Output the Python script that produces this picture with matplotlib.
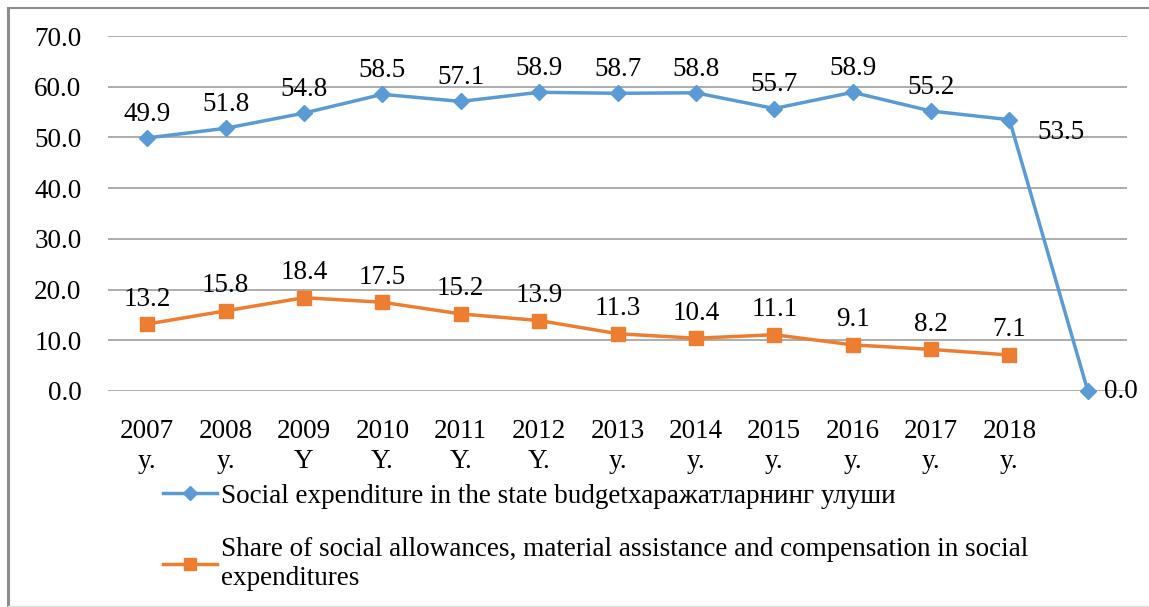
import matplotlib
matplotlib.use("Agg")
import matplotlib.pyplot as plt
from matplotlib.lines import Line2D

plt.rcParams['font.family'] = ['Liberation Serif', 'DejaVu Serif']

categories = ["2007\ny.", "2008\ny.", "2009\nY", "2010\nY.", "2011\nY.", "2012\nY.",
              "2013\ny.", "2014\ny.", "2015\ny.", "2016\ny.", "2017\ny.", "2018\ny.", ""]
social_exp = [49.9, 51.8, 54.8, 58.5, 57.1, 58.9, 58.7, 58.8, 55.7, 58.9, 55.2, 53.5, 0.0]
allowances = [13.2, 15.8, 18.4, 17.5, 15.2, 13.9, 11.3, 10.4, 11.1, 9.1, 8.2, 7.1]
series_names = ["Social expenditure in the state budgetхаражатларнинг улуши",
                "Share of social allowances, material assistance and compensation in social\nexpenditures"]
yticks = [0, 10, 20, 30, 40, 50, 60, 70]

blue = "#5B9BD5"
orange = "#ED7D31"
FS = 19.5

W, H = 1149, 607
fig = plt.figure(figsize=(W / 100, H / 100), dpi=100)
ax = fig.add_axes([108 / W, 1 - 391 / H, (1127 - 108) / W, (391 - 36) / H])

x1 = list(range(len(social_exp)))
x2 = list(range(len(allowances)))
ax.plot(x1, social_exp, color=blue, lw=2.5, marker="D", ms=8, zorder=3, clip_on=False)
ax.plot(x2, allowances, color=orange, lw=2.5, marker="s", ms=10, zorder=3, clip_on=False)

ax.set_xlim(-0.5, len(categories) - 0.5)
ax.set_ylim(0, 70)
ax.set_yticks(yticks)
ax.set_yticklabels([f"{v:.1f}" for v in yticks], fontsize=FS)
ax.set_xticks(x1)
ax.set_xticklabels(categories, fontsize=FS, linespacing=1.3)
ax.tick_params(axis='x', length=0, pad=20)
ax.tick_params(axis='y', length=0, pad=19)
ax.grid(axis='y', color="#A6A6A6", lw=1.3)
ax.set_axisbelow(True)
for s in ax.spines.values():
    s.set_visible(False)

for i, v in enumerate(social_exp):
    if i == len(social_exp) - 1:
        ax.annotate(f"{v:.1f}", (i, v), xytext=(12, 0), textcoords="offset points",
                    ha="left", va="center", fontsize=FS)
    elif i == len(social_exp) - 2:
        ax.annotate(f"{v:.1f}", (i, v), xytext=(20, -9), textcoords="offset points",
                    ha="left", va="center", fontsize=FS)
    else:
        ax.annotate(f"{v:.1f}", (i, v), xytext=(0, 17), textcoords="offset points",
                    ha="center", va="center", fontsize=FS)
for i, v in enumerate(allowances):
    ax.annotate(f"{v:.1f}", (i, v), xytext=(0, 18), textcoords="offset points",
                ha="center", va="center", fontsize=FS)

handles = [Line2D([], [], color=blue, lw=2.5, marker="D", ms=7),
           Line2D([], [], color=orange, lw=2.5, marker="s", ms=9)]
fig.legend(handles, series_names, loc="upper left", bbox_to_anchor=(152 / W, 1 - 473 / H),
           frameon=False, fontsize=FS, handlelength=2.0, handletextpad=0.15,
           labelspacing=1.05, borderaxespad=0)

fig.add_artist(Line2D([7.5 / W, 7.5 / W], [0, 1 - 7.5 / H], color="#8C8C8C", lw=2.2,
                      transform=fig.transFigure))
fig.add_artist(Line2D([7.5 / W, 1], [1 - 7.5 / H, 1 - 7.5 / H], color="#8C8C8C", lw=1.5,
                      transform=fig.transFigure))
fig.add_artist(Line2D([7.5 / W, 1], [1.5 / H, 1.5 / H], color="#E0E0E0", lw=1.0,
                      transform=fig.transFigure))

fig.savefig("out.png", dpi=100)
